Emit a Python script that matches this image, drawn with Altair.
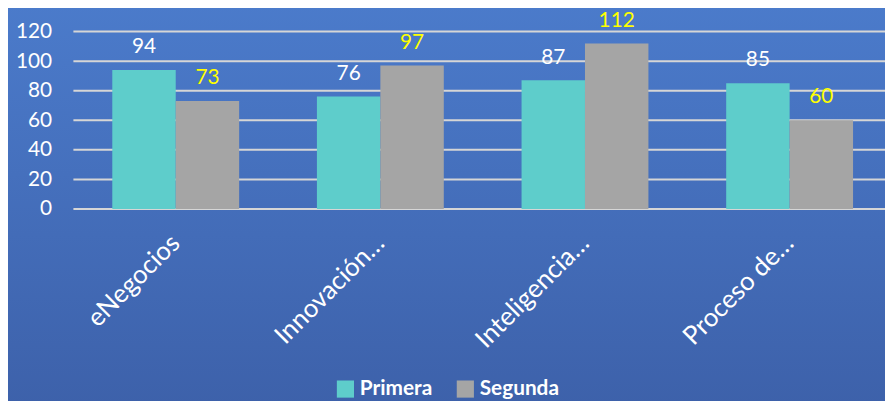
import altair as alt
import pandas as pd

categories = ["eNegocios", "Innovación…", "Inteligencia…", "Proceso de…"]
series = ["Primera", "Segunda"]
primera = [94, 76, 87, 85]
segunda = [73, 97, 112, 60]
y_ticks = [0, 20, 40, 60, 80, 100, 120]

rows = []
for c, p, s in zip(categories, primera, segunda):
    rows.append({"cat": c, "serie": "Primera", "valor": p})
    rows.append({"cat": c, "serie": "Segunda", "valor": s})
df = pd.DataFrame(rows)
ticks_df = pd.DataFrame({"valor": y_ticks})

W, H = 819, 179
FONT = "Lato"

x_enc = alt.X("cat:N", sort=categories, title=None,
              scale=alt.Scale(range=[0, 826], paddingInner=0.38, paddingOuter=0.19),
              axis=alt.Axis(labelAngle=-45, labelAlign="right", labelBaseline="middle",
                            labelPadding=30, labelFontSize=26, labelColor="white",
                            labelFont=FONT, ticks=False, domain=False, grid=False,
                            labelLimit=300, zindex=1))
xoff = alt.XOffset("serie:N", sort=series)
y_scale = alt.Scale(domain=[0, 120], nice=False)
y_axis = alt.Axis(values=y_ticks, labelFontSize=21, labelColor="white",
                  labelFont=FONT, labelPadding=22, ticks=False, domain=False,
                  grid=False, zindex=1)
y_enc = alt.Y("valor:Q", title=None, scale=y_scale, axis=y_axis)

bg = alt.Chart(alt.Data(values=[{}])).mark_rect(
    fill=alt.Gradient(gradient="linear", x1=0, y1=0, x2=0, y2=1,
                      stops=[alt.GradientStop(color="#4b7bcb", offset=0),
                             alt.GradientStop(color="#3d61aa", offset=1)])
).encode(x=alt.value(-70), x2=alt.value(W + 20), y=alt.value(-30), y2=alt.value(H + 200))

grid = alt.Chart(ticks_df).mark_rule(color="#d6d6d6", strokeWidth=2).encode(
    y=alt.Y("valor:Q", title=None, scale=y_scale, axis=y_axis),
    x=alt.value(0), x2=alt.value(W)
)

bars = alt.Chart(df).mark_bar().encode(
    x=x_enc, xOffset=xoff, y=y_enc,
    color=alt.Color("serie:N", sort=series,
                    scale=alt.Scale(domain=series, range=["#5ecdcb", "#a5a5a5"]),
                    legend=alt.Legend(title=None, orient="none", direction="horizontal",
                                      legendX=264, legendY=350, symbolType="square",
                                      symbolSize=300, symbolStrokeWidth=0,
                                      labelFontSize=21, labelFontWeight="bold",
                                      labelColor="white", labelFont=FONT,
                                      columnPadding=22, symbolOpacity=1))
)

labels = alt.Chart(df).mark_text(dy=-17, baseline="alphabetic", fontSize=21, font=FONT).encode(
    x=alt.X("cat:N", sort=categories), xOffset=xoff, y=alt.Y("valor:Q", scale=y_scale, axis=y_axis, title=None),
    text="valor:Q",
    color=alt.condition(alt.datum.serie == "Primera", alt.value("white"), alt.value("#ffff00"))
)

chart = alt.layer(bg, grid, bars, labels).properties(
    width=W, height=H,
    autosize=alt.AutoSizeParams(type="none"),
    padding={"left": 66, "top": 22, "right": 0, "bottom": 192},
    background="#4470bd",
).configure_view(stroke=None)

chart.save("out.html", embed_options={"renderer": "svg", "actions": False})
